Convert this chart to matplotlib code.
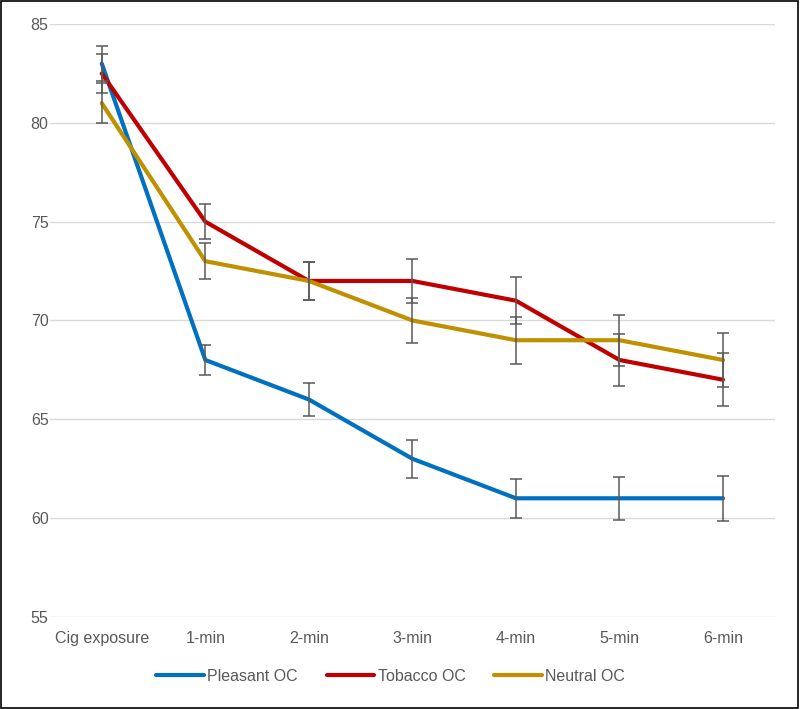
import matplotlib
matplotlib.use("Agg")
import matplotlib.pyplot as plt
from matplotlib.patches import Rectangle

plt.rcParams['font.family'] = ['Liberation Sans', 'DejaVu Sans']

categories = ['Cig exposure', '1-min', '2-min', '3-min', '4-min', '5-min', '6-min']

pleasant = [83, 68, 66, 63, 61, 61, 61]
pleasant_err = [0.9, 0.75, 0.85, 0.95, 1.0, 1.1, 1.15]

tobacco = [82.5, 75, 72, 72, 71, 68, 67]
tobacco_err = [1.0, 0.9, 0.96, 1.1, 1.2, 1.3, 1.35]

neutral = [81, 73, 72, 70, 69, 69, 68]
neutral_err = [1.0, 0.9, 0.96, 1.15, 1.2, 1.3, 1.35]

series = [
    ('Pleasant OC', pleasant, pleasant_err, '#0070C0'),
    ('Tobacco OC', tobacco, tobacco_err, '#C00000'),
    ('Neutral OC', neutral, neutral_err, '#BF9000'),
]

fig = plt.figure(figsize=(8, 7.09), dpi=100)
ax = fig.add_axes([0.0625, 0.13, 0.906, 0.836])

x = list(range(len(categories)))
for name, vals, err, col in series:
    ax.plot(x, vals, color=col, lw=3.0, label=name, zorder=3,
            solid_joinstyle='round', solid_capstyle='round')
for name, vals, err, col in series:
    ax.errorbar(x, vals, yerr=err, fmt='none', ecolor='#595959', elinewidth=1.1,
                capsize=4, capthick=1.1, zorder=4)

ax.set_xlim(-0.5, 6.5)
ax.set_ylim(55, 85)
ax.set_yticks([55, 60, 65, 70, 75, 80, 85])
ax.set_xticks(x)
ax.set_xticklabels(categories)
ax.tick_params(axis='both', length=0, labelsize=11.5, colors='#595959')
ax.tick_params(axis='x', pad=10)
ax.tick_params(axis='y', pad=1)
ax.grid(axis='y', color='#D9D9D9', lw=1)
ax.set_axisbelow(True)
for s in ax.spines.values():
    s.set_visible(False)

leg = ax.legend(loc='center', bbox_to_anchor=(0.47, -0.1), ncol=3, frameon=False,
                fontsize=11.5, handlelength=3.0, handletextpad=0.2, columnspacing=1.8)
for t in leg.get_texts():
    t.set_color('#595959')

fig.patches.append(Rectangle((0.001, 0.001), 0.997, 0.997, transform=fig.transFigure,
                             fill=False, edgecolor='black', lw=1.2))

fig.savefig('out.png', dpi=100)
